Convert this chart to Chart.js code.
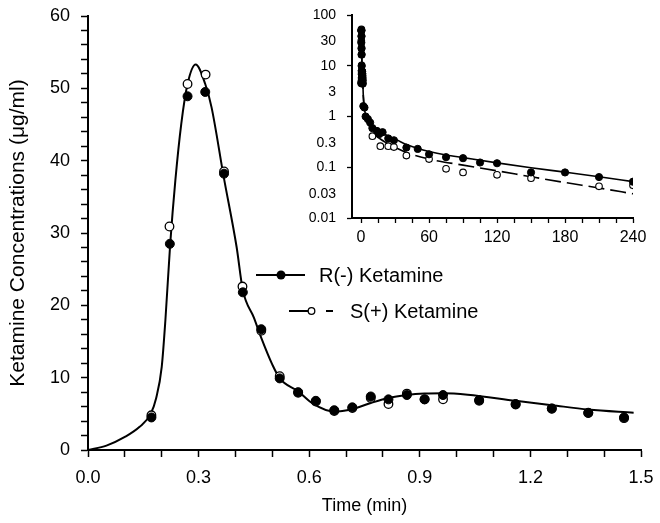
<!DOCTYPE html>
<html lang="en">
<head>
    <meta charset="UTF-8">
    <title>Ketamine Concentrations</title>
    <style>
        body {
            margin: 0;
            background-color: #ffffff;
        }
        .wrap {
            position: relative;
            width: 660px;
            height: 523px;
        }
        #mainChart {
            position: absolute;
            left: 0;
            top: 0;
        }
        #insetChart {
            position: absolute;
            left: 290px;
            top: 0;
        }
    </style>
</head>
<body>
    <div class="wrap">
        <canvas id="mainChart" width="660" height="523"></canvas>
        <canvas id="insetChart" width="370" height="260"></canvas>
    </div>
    <script src="https://cdn.jsdelivr.net/npm/chart.js@4.4.1/dist/chart.umd.min.js"></script>
    <script>
        // Main panel: first 1.5 min, concentrations in ug/ml
        var rTime = [0.172, 0.222, 0.270, 0.318, 0.369, 0.420, 0.470, 0.520, 0.570, 0.618, 0.668, 0.717, 0.767, 0.815, 0.865, 0.913, 0.963, 1.061, 1.160, 1.258, 1.357, 1.454];
        var rConc = [4.5, 28.5, 48.9, 49.5, 38.2, 21.8, 16.7, 9.9, 8.0, 6.8, 5.5, 5.9, 7.4, 7.0, 7.6, 7.0, 7.6, 6.9, 6.35, 5.75, 5.15, 4.5];
        var sTime = [0.172, 0.221, 0.270, 0.319, 0.369, 0.419, 0.470, 0.520, 0.570, 0.618, 0.668, 0.717, 0.767, 0.815, 0.865, 0.913, 0.963, 1.061, 1.160, 1.258, 1.357, 1.454];
        var sConc = [4.8, 30.9, 50.6, 51.9, 38.5, 22.6, 16.5, 10.2, 7.9, 6.7, 5.4, 5.8, 7.2, 6.35, 7.8, 7.0, 7.0, 6.8, 6.3, 5.7, 5.1, 4.4];
        // fitted curve
        var fitTime = [0, 0.05, 0.10, 0.14, 0.17, 0.185, 0.20, 0.21, 0.223, 0.237, 0.253, 0.270, 0.292, 0.318, 0.335, 0.368, 0.403, 0.420, 0.450, 0.470, 0.500, 0.520, 0.570, 0.610, 0.668, 0.717, 0.767, 0.815, 0.865, 0.913, 0.963, 1.03, 1.16, 1.258, 1.357, 1.48];
        var fitConc = [0, 0.6, 1.8, 3.2, 5.0, 7.2, 11.5, 18.0, 28.5, 37.3, 45.1, 50.6, 53.3, 50.6, 47.4, 37.8, 28.1, 22.1, 18.3, 15.5, 11.8, 9.9, 8.1, 6.4, 5.3, 5.66, 6.5, 7.2, 7.6, 7.8, 7.85, 7.65, 6.8, 6.2, 5.6, 5.15];

        // Inset: later samples up to 240 min
        var rLateTime = [2, 3, 4, 6, 8, 10, 14, 16, 19, 24, 29, 40, 50, 60, 75, 90, 105, 120, 150, 180, 210, 240];
        var rLateConc = [1.6, 1.5, 1.0, 0.89, 0.76, 0.59, 0.52, 0.45, 0.49, 0.37, 0.34, 0.244, 0.23, 0.18, 0.158, 0.151, 0.124, 0.12, 0.079, 0.079, 0.064, 0.052];
        var sLateTime = [10, 17, 24, 29, 40, 60, 75, 90, 120, 150, 210, 240];
        var sLateConc = [0.41, 0.26, 0.26, 0.25, 0.17, 0.145, 0.093, 0.079, 0.071, 0.061, 0.042, 0.044];
        var rFitTime = [0.3, 0.5, 0.7, 1, 1.5, 2, 3, 5, 8, 12, 17, 25, 31, 40, 50, 60, 75, 90, 120, 150, 180, 210, 240];
        var rFitConc = [53, 40, 12, 8, 5, 2.5, 1.4, 0.95, 0.75, 0.6, 0.5, 0.4, 0.35, 0.28, 0.235, 0.205, 0.175, 0.155, 0.122, 0.098, 0.08, 0.065, 0.052];
        var sFitTime = [0.3, 0.5, 0.7, 1, 1.5, 2, 3, 5, 8, 12, 17, 25, 31, 40, 60, 90, 120, 150, 180, 210, 240];
        var sFitConc = [53, 40, 12, 8, 5, 2.5, 1.3, 0.85, 0.6, 0.45, 0.36, 0.28, 0.24, 0.195, 0.145, 0.11, 0.085, 0.065, 0.05, 0.039, 0.030];

        // tick labels
        var mainXLabels = [0, 0.3, 0.6, 0.9, 1.2, 1.5];
        var mainYLabels = [0, 10, 20, 30, 40, 50, 60];
        var insetXLabels = [0, 60, 120, 180, 240];
        var insetYLabels = [0.01, 0.03, 0.1, 0.3, 1, 3, 10, 30, 100];

        Chart.defaults.font.family = "'Liberation Sans', Arial, sans-serif";
        Chart.defaults.color = '#000';

        function toPoints(xs, ys) {
            return xs.map(function(x, i) { return {x: x, y: ys[i]}; });
        }
        function near(a, list) {
            return list.some(function(v) { return Math.abs(v - a) < 1e-6; });
        }
        // let layout.padding alone decide where the plot box sits
        function fixX(h) {
            return function(scale) { scale.height = h; scale.paddingLeft = 0; scale.paddingRight = 0; };
        }
        function fixY(w) {
            return function(scale) { scale.width = w; scale.paddingTop = 0; scale.paddingBottom = 0; };
        }

        // Legend drawn as line + marker samples like the original figure
        var legendPlugin = {
            id: 'figLegend',
            afterDraw: function(chart) {
                var ctx = chart.ctx;
                ctx.save();
                ctx.strokeStyle = '#000';
                ctx.fillStyle = '#000';
                ctx.lineWidth = 2;
                // R(-)
                ctx.beginPath();
                ctx.moveTo(256, 275); ctx.lineTo(305, 275);
                ctx.stroke();
                ctx.beginPath();
                ctx.arc(281, 275, 4.5, 0, Math.PI * 2);
                ctx.fill();
                // S(+)
                ctx.beginPath();
                ctx.moveTo(289, 311); ctx.lineTo(308, 311);
                ctx.moveTo(326, 311); ctx.lineTo(333, 311);
                ctx.stroke();
                ctx.beginPath();
                ctx.lineWidth = 1.3;
                ctx.fillStyle = '#fff';
                ctx.arc(311.5, 311, 3.3, 0, Math.PI * 2);
                ctx.fill();
                ctx.stroke();
                ctx.fillStyle = '#000';
                ctx.font = "20px 'Liberation Sans', Arial, sans-serif";
                ctx.textBaseline = 'middle';
                ctx.fillText('R(-) Ketamine', 319, 276);
                ctx.fillText('S(+) Ketamine', 350, 312);
                ctx.restore();
            }
        };

        var mainChart = new Chart(document.getElementById('mainChart'), {
            type: 'scatter',
            data: {
                datasets: [
                    {
                        label: 'R(-) Ketamine',
                        data: toPoints(rTime, rConc),
                        pointRadius: 4.5,
                        pointBackgroundColor: '#000',
                        pointBorderColor: '#000',
                        order: 1
                    },
                    {
                        label: 'S(+) Ketamine',
                        data: toPoints(sTime, sConc),
                        pointRadius: 4.3,
                        pointBackgroundColor: '#fff',
                        pointBorderColor: '#000',
                        pointBorderWidth: 1.3,
                        order: 2
                    },
                    {
                        label: 'fit',
                        data: toPoints(fitTime, fitConc),
                        showLine: true,
                        borderColor: '#000',
                        borderWidth: 2,
                        pointRadius: 0,
                        cubicInterpolationMode: 'monotone',
                        order: 3
                    }
                ]
            },
            options: {
                responsive: false,
                animation: false,
                devicePixelRatio: 1,
                layout: { padding: { left: 0, top: 16, right: 19, bottom: 0 } },
                plugins: { legend: { display: false }, tooltip: { enabled: false } },
                scales: {
                    x: {
                        type: 'linear',
                        min: 0,
                        max: 1.5,
                        afterBuildTicks: function(scale) {
                            var t = [];
                            for (var i = 0; i <= 15; i++) t.push({value: i / 10});
                            scale.ticks = t;
                        },
                        afterFit: fixX(73),
                        ticks: {
                            autoSkip: false,
                            maxRotation: 0,
                            padding: 10,
                            font: { size: 18 },
                            callback: function(v) { return near(v, mainXLabels) ? v.toFixed(1) : ''; }
                        },
                        grid: { drawOnChartArea: false, tickLength: 7, tickWidth: 1.5, tickColor: '#000' },
                        border: { color: '#000', width: 2 },
                        title: { display: true, text: 'Time (min)', font: { size: 18 }, padding: { top: 0, bottom: 6 } }
                    },
                    y: {
                        min: 0,
                        max: 60,
                        afterBuildTicks: function(scale) {
                            var t = [];
                            for (var i = 0; i <= 60; i += 2) t.push({value: i});
                            scale.ticks = t;
                        },
                        afterFit: fixY(88),
                        ticks: {
                            autoSkip: false,
                            padding: 11,
                            font: { size: 18 },
                            callback: function(v) { return near(v, mainYLabels) ? String(v) : ''; }
                        },
                        grid: { drawOnChartArea: false, tickLength: 7, tickWidth: 1.5, tickColor: '#000' },
                        border: { color: '#000', width: 2 },
                        title: { display: true, text: 'Ketamine Concentrations (\u03bcg/ml)', font: { size: 21 }, padding: { top: 6, bottom: 0 } }
                    }
                }
            },
            plugins: [legendPlugin]
        });

        var insetChart = new Chart(document.getElementById('insetChart'), {
            type: 'scatter',
            data: {
                datasets: [
                    {
                        label: 'R(-)',
                        data: toPoints(rTime.concat(rLateTime), rConc.concat(rLateConc)),
                        pointRadius: 3.6,
                        pointBackgroundColor: '#000',
                        pointBorderColor: '#000',
                        order: 1
                    },
                    {
                        label: 'S(+)',
                        data: toPoints(sTime.concat(sLateTime), sConc.concat(sLateConc)),
                        pointRadius: 3.3,
                        pointBackgroundColor: '#fff',
                        pointBorderColor: '#000',
                        pointBorderWidth: 1.1,
                        order: 2
                    },
                    {
                        label: 'R fit',
                        data: toPoints(rFitTime, rFitConc),
                        showLine: true,
                        borderColor: '#000',
                        borderWidth: 1.6,
                        pointRadius: 0,
                        cubicInterpolationMode: 'monotone',
                        order: 3
                    },
                    {
                        label: 'S fit',
                        data: toPoints(sFitTime, sFitConc),
                        showLine: true,
                        borderColor: '#000',
                        borderWidth: 1.6,
                        borderDash: [16, 6],
                        pointRadius: 0,
                        cubicInterpolationMode: 'monotone',
                        order: 4
                    }
                ]
            },
            options: {
                responsive: false,
                animation: false,
                devicePixelRatio: 1,
                layout: { padding: { left: 0, top: 15, right: 27, bottom: 10 } },
                plugins: { legend: { display: false }, tooltip: { enabled: false } },
                scales: {
                    x: {
                        type: 'linear',
                        min: -8,
                        max: 240,
                        afterBuildTicks: function(scale) {
                            var t = [];
                            for (var i = 0; i <= 240; i += 15) t.push({value: i});
                            scale.ticks = t;
                        },
                        afterFit: fixX(32),
                        ticks: {
                            autoSkip: false,
                            maxRotation: 0,
                            padding: 5,
                            font: { size: 16 },
                            callback: function(v) { return near(v, insetXLabels) ? String(v) : ''; }
                        },
                        grid: { drawOnChartArea: false, tickLength: 5, tickWidth: 1.3, tickColor: '#000' },
                        border: { color: '#000', width: 2 }
                    },
                    y: {
                        type: 'logarithmic',
                        min: 0.01,
                        max: 100,
                        afterBuildTicks: function(scale) {
                            scale.ticks = insetYLabels.map(function(v) { return {value: v}; });
                        },
                        afterFit: fixY(62),
                        ticks: {
                            autoSkip: false,
                            padding: 11,
                            font: { size: 14 },
                            callback: function(v) { return String(v); }
                        },
                        grid: {
                            drawOnChartArea: false,
                            tickLength: 5,
                            tickWidth: 1.3,
                            tickColor: function(c) {
                                var l = Math.log10(c.tick.value);
                                return Math.abs(l - Math.round(l)) < 1e-6 ? '#000' : 'rgba(0,0,0,0)';
                            }
                        },
                        border: { color: '#000', width: 2 }
                    }
                }
            }
        });
    </script>
</body>
</html>
